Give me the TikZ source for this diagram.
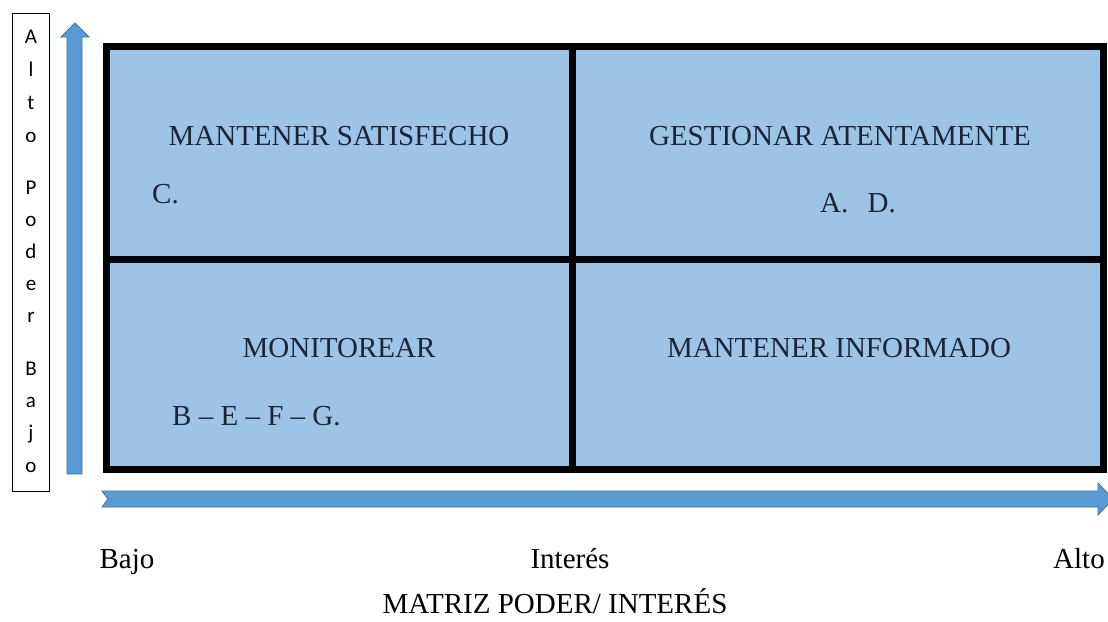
\documentclass[tikz,border=0pt]{standalone}
\usepackage{fontspec}
\setmainfont{Liberation Serif}
\newfontfamily\lettersans{Carlito}
\definecolor{cellblue}{HTML}{9DC3E6}
\definecolor{arrowblue}{HTML}{5B9BD5}
\definecolor{arrowedge}{HTML}{41719C}
\definecolor{inkblue}{HTML}{1C2435}
\tikzset{
  celltext/.style={font=\fontsize{29}{34}\selectfont, text=inkblue, inner sep=0pt, anchor=base},
  axistext/.style={font=\fontsize{29}{34}\selectfont, inner sep=0pt, anchor=base},
  sidetext/.style={font=\lettersans\fontsize{21}{24}\selectfont, inner sep=0pt, anchor=base},
  gridline/.style={line width=7pt, line cap=rect},
  bigarrow/.style={fill=arrowblue, draw=arrowedge, line width=0.8pt}
}
\begin{document}
\begin{tikzpicture}[x=1pt, y=-1pt]
  \useasboundingbox (0,0) rectangle (1108,621);
  % matrix
  \coordinate (nw) at (106,46);
  \coordinate (se) at (1103,469);
  \fill[cellblue] (nw) rectangle (se);
  \draw[gridline] (nw) rectangle (se);
  \draw[gridline] (572,46) -- (572,469);
  \draw[gridline] (106,259) -- (1103,259);

  \node[celltext] (sat) at (339,145) {MANTENER SATISFECHO};
  \node[celltext, anchor=base west] (satc) at (152,203) {C.};
  \node[celltext] (ges) at (840,145) {GESTIONAR ATENTAMENTE};
  \node[celltext] (gesc) at (858,212) {A.\ \ \,D.};
  \node[celltext] (mon) at (339,357) {MONITOREAR};
  \node[celltext, anchor=base west] (monc) at (172,425) {B -- E -- F -- G.};
  \node[celltext] (inf) at (839,357) {MANTENER INFORMADO};

  % arrows
  \draw[bigarrow] (67,474) -- (67,37) -- (61,37) -- (75,23) -- (89,37)
    -- (82,37) -- (82,474) -- cycle;
  \draw[bigarrow] (102,491) -- (1098,491) -- (1098,483) -- (1113,499)
    -- (1098,515) -- (1098,507) -- (102,507) -- (108,499) -- cycle;

  % side label
  \draw[line width=0.8pt] (12,13) rectangle (49,491);
  \foreach \ch/\yy in {A/43, l/76, t/109, o/142, P/194, o/226, d/258,
      e/290, r/322, B/375, a/407, j/439, o/472}
    \node[sidetext] (side\yy) at (31,\yy) {\ch};

  \node[axistext] (lo) at (127,568) {Bajo};
  \node[axistext] (mid) at (570,568) {Interés};
  \node[axistext] (hi) at (1079,568) {Alto};
  \node[axistext] (title) at (555,613) {MATRIZ PODER/ INTERÉS};
\end{tikzpicture}
\end{document}
